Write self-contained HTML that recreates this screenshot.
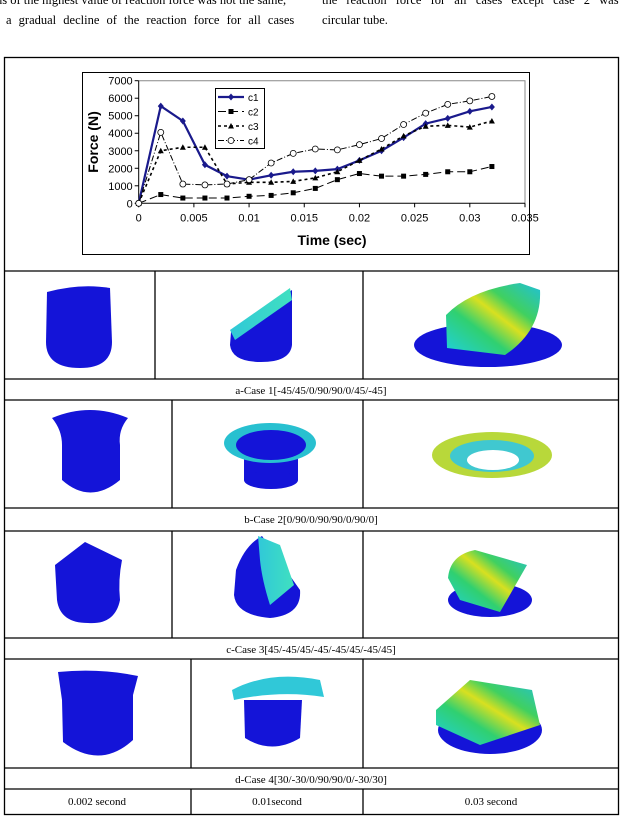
<!DOCTYPE html>
<html><head><meta charset="utf-8"><style>
body{margin:0;width:623px;height:820px;position:relative;background:#fff;overflow:hidden;font-family:"Liberation Serif",serif}
.t{position:absolute;font-size:12.5px;white-space:nowrap;color:#000}
svg{position:absolute;left:0;top:0}
</style></head><body>
<div class="t" style="left:-4px;top:-7px">ns of the highest value of reaction force was not the same,</div>
<div class="t" style="left:6px;top:13px;word-spacing:4px">a gradual decline of the reaction force for all cases</div>
<div class="t" style="left:322px;top:-7px;word-spacing:6px">the reaction force for all cases except case 2 was in</div>
<div class="t" style="left:322px;top:13px">circular tube.</div>

<svg width="623" height="820">
<defs>
<linearGradient id="rb" x1="0" y1="1" x2="1" y2="0"><stop offset="0" stop-color="#1fd0e0"/><stop offset=".35" stop-color="#30d070"/><stop offset=".55" stop-color="#d8e020"/><stop offset=".7" stop-color="#40d060"/><stop offset="1" stop-color="#20c0d8"/></linearGradient>
<linearGradient id="cy" x1="0" y1="0" x2="1" y2="0"><stop offset="0" stop-color="#30c8d8"/><stop offset="1" stop-color="#40e0c0"/></linearGradient>
</defs>
<g fill="none" stroke="#000" stroke-width="1.3">
<rect x="4.5" y="57.5" width="614" height="757"/>
<line x1="4" y1="271" x2="619" y2="271"/><line x1="4" y1="379" x2="619" y2="379"/>
<line x1="4" y1="400" x2="619" y2="400"/><line x1="4" y1="508" x2="619" y2="508"/>
<line x1="4" y1="531" x2="619" y2="531"/><line x1="4" y1="638" x2="619" y2="638"/>
<line x1="4" y1="659" x2="619" y2="659"/><line x1="4" y1="768" x2="619" y2="768"/>
<line x1="4" y1="789" x2="619" y2="789"/>
<line x1="155" y1="271" x2="155" y2="379"/><line x1="363" y1="271" x2="363" y2="379"/>
<line x1="172" y1="400" x2="172" y2="508"/><line x1="363" y1="400" x2="363" y2="508"/>
<line x1="172" y1="531" x2="172" y2="638"/><line x1="363" y1="531" x2="363" y2="638"/>
<line x1="191" y1="659" x2="191" y2="768"/><line x1="363" y1="659" x2="363" y2="768"/>
<line x1="191" y1="789" x2="191" y2="814"/><line x1="363" y1="789" x2="363" y2="814"/>
</g>
<g font-family="Liberation Serif,serif" font-size="11" text-anchor="middle" fill="#000">
<text x="311" y="394">a-Case 1[-45/45/0/90/90/0/45/-45]</text>
<text x="311" y="523">b-Case 2[0/90/0/90/90/0/90/0]</text>
<text x="311" y="653">c-Case 3[45/-45/45/-45/-45/45/-45/45]</text>
<text x="311" y="783">d-Case 4[30/-30/0/90/90/0/-30/30]</text>
<text x="97" y="805">0.002 second</text>
<text x="277" y="805">0.01second</text>
<text x="491" y="805">0.03 second</text>
</g>
<g fill="#1414d8">
<!-- row1 -->
<path d="M47 292 Q80 283 110 288 L112 342 Q112 368 80 368 Q46 368 46 342 Z"/>
<path d="M231 332 L292 290 L292 345 Q290 362 261 362 Q232 362 230 345 Z"/>
<path d="M230 330 L290 288 L292 300 L235 340 Z" fill="url(#cy)"/>
<ellipse cx="488" cy="345" rx="74" ry="22"/>
<path d="M447 348 L446 315 Q470 290 520 283 L540 290 Q542 330 505 355 Z" fill="url(#rb)"/>
<!-- row2 -->
<path d="M52 418 Q90 402 128 418 Q118 430 120 445 L120 480 Q90 505 62 480 L62 445 Q62 430 52 418 Z"/>
<rect x="244" y="455" width="54" height="25"/><ellipse cx="271" cy="480" rx="27" ry="9"/>
<ellipse cx="270" cy="443" rx="46" ry="20" fill="#28c0d0"/><ellipse cx="271" cy="445" rx="35" ry="15"/>
<ellipse cx="492" cy="455" rx="60" ry="23" fill="#b8d83a"/><ellipse cx="492" cy="456" rx="42" ry="16" fill="#40c8d0"/><ellipse cx="493" cy="460" rx="26" ry="10" fill="#fff"/>
<!-- row3 -->
<path d="M55 565 L85 542 L122 560 Q118 580 120 600 Q115 625 88 623 Q60 623 57 600 Z"/>
<path d="M236 570 Q245 545 262 536 L300 590 Q302 615 270 618 Q236 615 234 595 Z"/>
<path d="M258 536 L280 545 L294 585 L270 605 Q262 580 260 560 Z" fill="url(#cy)"/>
<ellipse cx="490" cy="600" rx="42" ry="17"/>
<path d="M448 578 Q450 555 475 550 L527 565 L500 612 L460 600 Z" fill="url(#rb)"/>
<!-- row4 -->
<path d="M58 672 Q100 668 138 676 L133 695 L133 740 Q100 770 63 742 L62 700 Z"/>
<path d="M244 700 L302 700 L300 738 Q272 755 245 738 Z"/>
<path d="M232 690 Q270 670 320 680 L324 697 Q280 690 234 700 Z" fill="#30c8d8"/>
<ellipse cx="490" cy="730" rx="52" ry="24"/>
<path d="M436 710 L470 680 L532 690 L540 725 L480 745 L436 725 Z" fill="url(#rb)"/>
</g>
</svg>

<svg width="623" height="820" id="chart">
<rect x="82.5" y="72.5" width="447" height="182" fill="#fff" stroke="#000"/>
</svg>
<script>
const times=[0,0.002,0.004,0.006,0.008,0.01,0.012,0.014,0.016,0.018,0.02,0.022,0.024,0.026,0.028,0.03,0.032];
const c1=[0,5550,4700,2200,1550,1350,1600,1800,1850,1950,2450,3000,3750,4550,4850,5250,5500];
const c2=[0,500,300,300,300,400,450,600,850,1350,1700,1550,1550,1650,1800,1800,2100];
const c3=[0,3000,3200,3200,1100,1200,1200,1250,1450,1800,2450,3100,3850,4400,4450,4350,4700];
const c4=[0,4050,1100,1050,1100,1350,2300,2850,3100,3050,3350,3700,4500,5150,5650,5850,6100];
const yTicks=[0,1000,2000,3000,4000,5000,6000,7000];
const xTicks=[0,0.005,0.01,0.015,0.02,0.025,0.03,0.035];
const xTickLabels=["0","0.005","0.01","0.015","0.02","0.025","0.03","0.035"];
const seriesNames=["c1","c2","c3","c4"];
const NS="http://www.w3.org/2000/svg";
const svg=document.getElementById('chart');
const X0=138.7,X1=525,Y0=203.3,Y1=80.7;
const sx=v=>X0+(v/0.035)*(X1-X0);
const sy=v=>Y0-(v/7000)*(Y0-Y1);
function mk(t,a,p){const e=document.createElementNS(NS,t);for(const k in a)e.setAttribute(k,a[k]);(p||svg).appendChild(e);return e;}
let e=mk('path',{d:`M${X0} ${Y1}H${X1}V${Y0}`,fill:'none',stroke:'#888'});

e=mk('path',{d:`M${X0} ${Y1}V${Y0}H${X1}`,fill:'none',stroke:'#000'});

yTicks.forEach(v=>{mk('line',{x1:X0-4,x2:X0,y1:sy(v),y2:sy(v),stroke:'#000'});
 const t=mk('text',{x:X0-6,y:sy(v)+4,'text-anchor':'end','font-size':'11','font-family':'Liberation Sans,sans-serif'});t.textContent=v;
 });
xTicks.forEach((v,i)=>{mk('line',{x1:sx(v),x2:sx(v),y1:Y0,y2:Y0+4,stroke:'#000'});
 const t=mk('text',{x:sx(v),y:Y0+18,'text-anchor':'middle','font-size':'11','font-family':'Liberation Sans,sans-serif'});t.textContent=xTickLabels[i];
 });
let t=mk('text',{x:332,y:245,'text-anchor':'middle','font-size':'14','font-weight':'bold','font-family':'Liberation Sans,sans-serif'});t.textContent='Time (sec)';

t=mk('text',{x:0,y:0,transform:'translate(98,142) rotate(-90)','text-anchor':'middle','font-size':'14','font-weight':'bold','font-family':'Liberation Sans,sans-serif'});t.textContent='Force (N)';

const styles=[{c:'#1a1a8c',w:2.2,d:''},{c:'#000',w:1,d:'8 4'},{c:'#000',w:1.6,d:'3 3'},{c:'#000',w:1,d:'6 2 1 2'}];
function marker(k,x,y,g){
 if(k==0)mk('path',{d:`M${x} ${y-3.5}L${x+3} ${y}L${x} ${y+3.5}L${x-3} ${y}Z`,fill:'#1a1a8c'},g);
 else if(k==1)mk('rect',{x:x-2.5,y:y-2.5,width:5,height:5,fill:'#000'},g);
 else if(k==2)mk('path',{d:`M${x} ${y-3}L${x+3} ${y+2.5}L${x-3} ${y+2.5}Z`,fill:'#000'},g);
 else mk('circle',{cx:x,cy:y,r:3,fill:'#fff',stroke:'#000','stroke-width':0.8},g);}
[c1,c2,c3,c4].forEach((s,k)=>{
 const g=mk('g',{});
 mk('path',{d:s.map((v,i)=>(i?'L':'M')+sx(times[i])+' '+sy(v)).join(''),fill:'none',stroke:styles[k].c,'stroke-width':styles[k].w,'stroke-dasharray':styles[k].d},g);
 s.forEach((v,i)=>marker(k,sx(times[i]),sy(v),g));});
const lg=mk('g',{});
mk('rect',{x:215.5,y:88.5,width:49,height:60,fill:'#fff',stroke:'#000'},lg);
seriesNames.forEach((n,k)=>{const y=97+k*14.5;
 mk('line',{x1:218,x2:244,y1:y,y2:y,stroke:styles[k].c,'stroke-width':styles[k].w,'stroke-dasharray':styles[k].d},lg);
 marker(k,231,y,lg);
 const tt=mk('text',{x:248,y:y+4,'font-size':'10','font-family':'Liberation Sans,sans-serif'},lg);tt.textContent=n;
 });
</script>
</body></html>
